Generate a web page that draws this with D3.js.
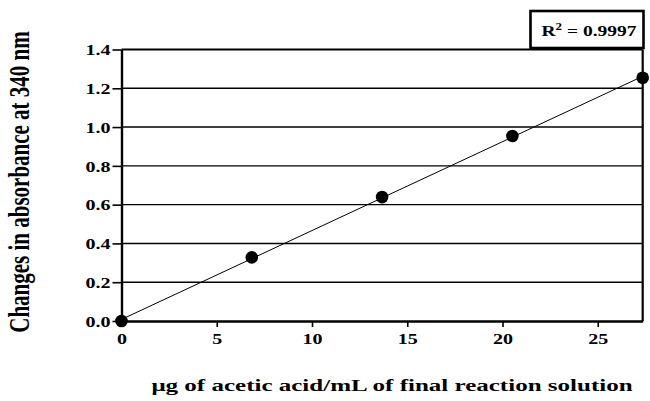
<!DOCTYPE html>
<html><head><meta charset="utf-8">
<script src="https://cdn.jsdelivr.net/npm/d3@7"></script>
<style>body{margin:0;background:#fff}svg{display:block}text{font-family:"Liberation Serif","Times New Roman",serif;font-weight:bold;fill:#000}</style>
</head><body>
<script>
const xValues = [0, 6.84, 13.68, 20.52, 27.36];
const yValues = [0, 0.328, 0.639, 0.954, 1.254];
const xTicks = [0, 5, 10, 15, 20, 25];
const yTicks = [0.0, 0.2, 0.4, 0.6, 0.8, 1.0, 1.2, 1.4];
const r2Label = "0.9997";
const xTitle = "\u03BCg of acetic acid/mL of final reaction solution";
const yTitle = "Changes in absorbance at 340 nm";

const W = 650, H = 401;
const SX = 1.38; // horizontal stretch of the original figure's lettering
const m = {left: 121.5, right: 650 - 642.7, top: 49.5, bottom: 401 - 321};
const svg = d3.select("body").append("svg").attr("width", W).attr("height", H);
const x = d3.scaleLinear().domain([0, 27.36]).range([m.left, W - m.right]);
const y = d3.scaleLinear().domain([0, 1.4]).range([H - m.bottom, m.top]);

// gridlines
svg.append("g").selectAll("line").data(yTicks.filter(v => v > 0 && v < 1.4)).join("line")
  .attr("x1", x(0)).attr("x2", x.range()[1]).attr("y1", d => y(d)).attr("y2", d => y(d))
  .attr("stroke", "#000").attr("stroke-width", 1.4);
// top and right border
svg.append("line").attr("x1", x(0)).attr("x2", x.range()[1]).attr("y1", y(1.4)).attr("y2", y(1.4)).attr("stroke", "#000").attr("stroke-width", 1.8);
svg.append("line").attr("x1", x.range()[1]).attr("x2", x.range()[1]).attr("y1", y(1.4)).attr("y2", y(0)).attr("stroke", "#000").attr("stroke-width", 2.2);

// axes
const yAxis = d3.axisLeft(y).tickValues(yTicks).tickFormat(d3.format(".1f")).tickSize(9).tickSizeOuter(0);
const gy = svg.append("g").attr("transform", `translate(${x(0)},0)`).call(yAxis);
gy.select(".domain").attr("stroke-width", 2.4);
gy.selectAll(".tick line").attr("stroke-width", 1.6);
gy.selectAll("text").attr("font-size", 14.5).attr("x", 0).attr("dy", "0.36em")
  .attr("transform", `translate(-11,0) scale(${SX},1)`);

const xAxis = d3.axisBottom(x).tickValues(xTicks).tickSize(6).tickSizeOuter(0);
const gx = svg.append("g").attr("transform", `translate(0,${y(0)})`).call(xAxis);
gx.select(".domain").attr("stroke-width", 2.4);
gx.selectAll(".tick line").attr("stroke-width", 1.6);
gx.selectAll("text").attr("font-size", 14.5).attr("y", 23).attr("dy", 0)
  .attr("transform", `scale(${SX},1)`);

svg.selectAll("g text").style("font-family", '"Liberation Serif","Times New Roman",serif').style("font-weight", "bold");

// regression line
const mx = d3.mean(xValues), my = d3.mean(yValues);
const slope = d3.sum(xValues.map((v, i) => (v - mx) * (yValues[i] - my))) / d3.sum(xValues.map(v => (v - mx) ** 2));
const icpt = my - slope * mx;
const x0 = 0, x1 = d3.max(xValues);
svg.append("line").attr("x1", x(x0)).attr("y1", y(icpt + slope * x0))
  .attr("x2", x(x1)).attr("y2", y(icpt + slope * x1))
  .attr("stroke", "#000").attr("stroke-width", 1);

// points
svg.append("g").selectAll("circle").data(xValues).join("circle")
  .attr("cx", d => x(d)).attr("cy", (d, i) => y(yValues[i])).attr("r", 6.3).attr("fill", "#000");

// R2 box
svg.append("rect").attr("x", 530.5).attr("y", 11).attr("width", 113).attr("height", 37)
  .attr("fill", "#fff").attr("stroke", "#000").attr("stroke-width", 2.6);
const rt = svg.append("text").attr("text-anchor", "middle").attr("font-size", 15)
  .attr("transform", `translate(589,36) scale(1.3,1)`);
rt.append("tspan").text("R");
rt.append("tspan").attr("font-size", 10).attr("dy", -6).text("2");
rt.append("tspan").attr("dy", 6).text(" = " + r2Label);

// titles
svg.append("text").attr("transform", `translate(392,391) scale(1.43,1)`).attr("text-anchor", "middle").attr("font-size", 17.5).text(xTitle);
svg.append("text").attr("transform", `translate(28.5,182) scale(${SX},1) rotate(-90)`).attr("text-anchor", "middle").attr("font-size", 21).text(yTitle);
</script>
</body></html>
